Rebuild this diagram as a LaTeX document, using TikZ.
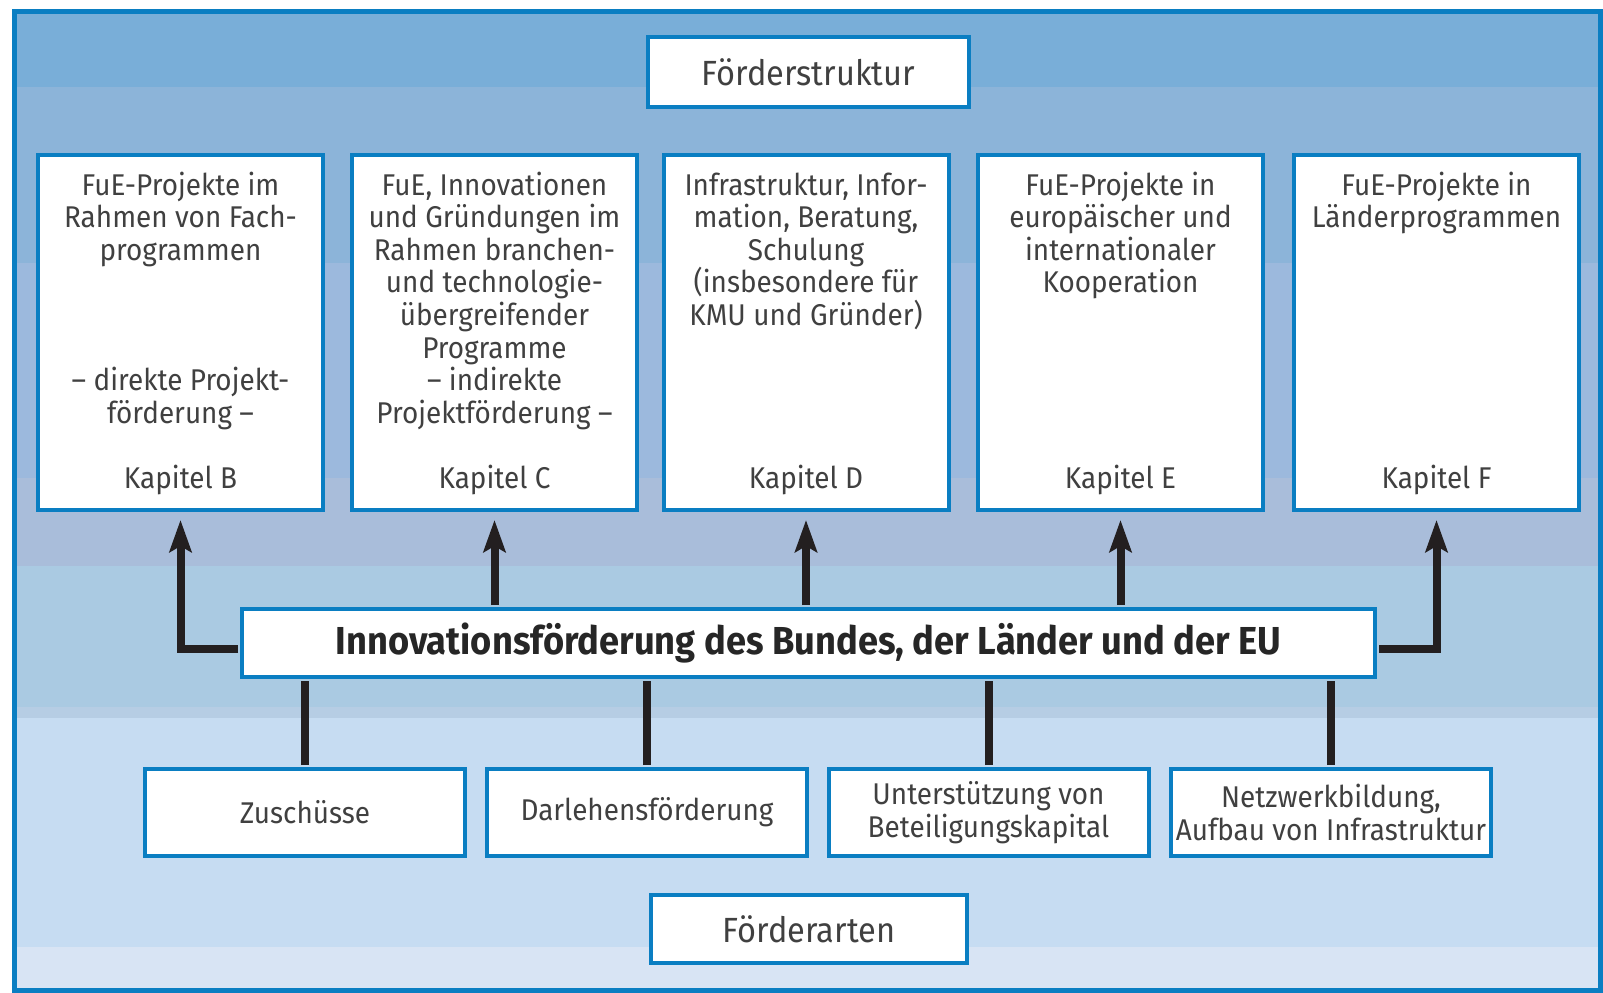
\documentclass[tikz,border=0pt]{standalone}
\usepackage{fontspec}
\setmainfont{Fira Sans}[FakeStretch=0.93]
\usetikzlibrary{arrows.meta}
\definecolor{frameblue}{HTML}{0A7EC2}
\definecolor{bandA}{HTML}{79AED8}
\definecolor{bandB}{HTML}{8CB4D9}
\definecolor{bandC}{HTML}{9CB9DD}
\definecolor{bandD}{HTML}{A9BDDA}
\definecolor{bandE}{HTML}{AACAE2}
\definecolor{bandF}{HTML}{B6CDE4}
\definecolor{bandG}{HTML}{C6DCF2}
\definecolor{bandH}{HTML}{D8E4F4}
\definecolor{txtgray}{HTML}{404040}
\definecolor{arrowblack}{HTML}{231F20}
\newcommand\myBody{\fontsize{15}{16.3}\selectfont}
\newcommand\myHead{\fontsize{17.5}{20}\selectfont}
\newcommand\myTitle{\fontsize{19.5}{23}\selectfont\bfseries}
\newcommand\Ln[1]{\smash{#1}}
\begin{document}
\begin{tikzpicture}[x=0.5pt,y=-0.5pt,
  box/.style={draw=frameblue, line width=2pt, fill=white, inner sep=0pt},
  body/.style={text=txtgray, inner sep=0pt, font=\myBody},
  conn/.style={line width=4pt, draw=arrowblack},
  arr/.style={conn, -{Stealth[length=16pt,width=11pt,inset=3pt]}, shorten >=4pt}]
\useasboundingbox (0,0) rectangle (1603,992);
% background bands
\fill[bandA] (14,11) rectangle (1600,87);
\fill[bandB] (14,87) rectangle (1600,263);
\fill[bandC] (14,263) rectangle (1600,478);
\fill[bandD] (14,478) rectangle (1600,566);
\fill[bandE] (14,566) rectangle (1600,707);
\fill[bandF] (14,707) rectangle (1600,718);
\fill[bandG] (14,718) rectangle (1600,947);
\fill[bandH] (14,947) rectangle (1600,990);
\draw[frameblue, line width=2.5pt] (14,11) rectangle (1600,990);
% heading boxes
\node[box, minimum width=160.5pt, minimum height=35pt, font=\myHead, text=txtgray] (struk) at (808.5,72) {Förderstruktur};
\node[box, minimum width=158pt, minimum height=34pt, font=\myHead, text=txtgray] (arten) at (809,929) {Förderarten};
% top boxes
\node[box, minimum width=142.5pt, minimum height=177.5pt] (t1) at (180.5,332.5) {};
\node[box, minimum width=142.5pt, minimum height=177.5pt] (t2) at (494.5,332.5) {};
\node[box, minimum width=142.5pt, minimum height=177.5pt] (t3) at (806,332.5) {};
\node[box, minimum width=142.5pt, minimum height=177.5pt] (t4) at (1120.5,332.5) {};
\node[box, minimum width=142.5pt, minimum height=177.5pt] (t5) at (1436.5,332.5) {};
\node[body, anchor=base] (t1x) at (180.5,195) {\begin{tabular}[t]{@{}c@{}}\Ln{FuE-Projekte im}\\\Ln{Rahmen von Fach-}\\\Ln{programmen}\\ \\ \\ \\\Ln{– direkte Projekt-}\\\Ln{förderung –}\\ \\\Ln{Kapitel B}\end{tabular}};
\node[body, anchor=base] (t2x) at (494.5,195) {\begin{tabular}[t]{@{}c@{}}\Ln{FuE, Innovationen}\\\Ln{und Gründungen im}\\\Ln{Rahmen branchen-}\\\Ln{und technologie-}\\\Ln{übergreifender}\\\Ln{Programme}\\\Ln{– indirekte}\\\Ln{Projektförderung –}\\ \\\Ln{Kapitel C}\end{tabular}};
\node[body, anchor=base] (t3x) at (806,195) {\begin{tabular}[t]{@{}c@{}}\Ln{Infrastruktur, Infor-}\\\Ln{mation, Beratung,}\\\Ln{Schulung}\\\Ln{(insbesondere für}\\\Ln{KMU und Gründer)}\\ \\ \\ \\ \\\Ln{Kapitel D}\end{tabular}};
\node[body, anchor=base] (t4x) at (1120.5,195) {\begin{tabular}[t]{@{}c@{}}\Ln{FuE-Projekte in}\\\Ln{europäischer und}\\\Ln{internationaler}\\\Ln{Kooperation}\\ \\ \\ \\ \\ \\\Ln{Kapitel E}\end{tabular}};
\node[body, anchor=base] (t5x) at (1436.5,195) {\begin{tabular}[t]{@{}c@{}}\Ln{FuE-Projekte in}\\\Ln{Länderprogrammen}\\ \\ \\ \\ \\ \\ \\ \\\Ln{Kapitel F}\end{tabular}};
% central box
\node[box, minimum width=566.5pt, minimum height=34pt, font=\myTitle, text=black!85] (big) at (808.5,643) {Innovationsförderung des Bundes, der Länder und der EU};
% bottom boxes
\node[box, minimum width=160pt, minimum height=43.5pt, body, align=center] (b1) at (305,812.5) {Zuschüsse};
\node[box, minimum width=160pt, minimum height=43.5pt, body, align=center] (b2) at (647,812.5) {Darlehensförderung};
\node[box, minimum width=160pt, minimum height=43.5pt, body, align=center] (b3) at (988.5,812.5) {Unterstützung von\\Beteiligungskapital};
\node[box, minimum width=160pt, minimum height=43.5pt, body, align=center] (b4) at (1331,812.5) {Netzwerkbildung,\\Aufbau von Infrastruktur};
% connectors
\foreach \b in {b1,b2,b3,b4}
  \draw[conn, shorten <=1pt, shorten >=1pt] (\b.north) -- (\b.north |- big.south);
\foreach \t in {t2,t3,t4}
  \draw[arr, shorten <=1pt] (\t.south |- big.north) -- (\t.south);
\draw[arr, shorten <=1pt] ([yshift=-3pt]big.west) -| (t1.south);
\draw[arr, shorten <=1pt] ([yshift=-3pt]big.east) -| (t5.south);
\end{tikzpicture}
\end{document}
